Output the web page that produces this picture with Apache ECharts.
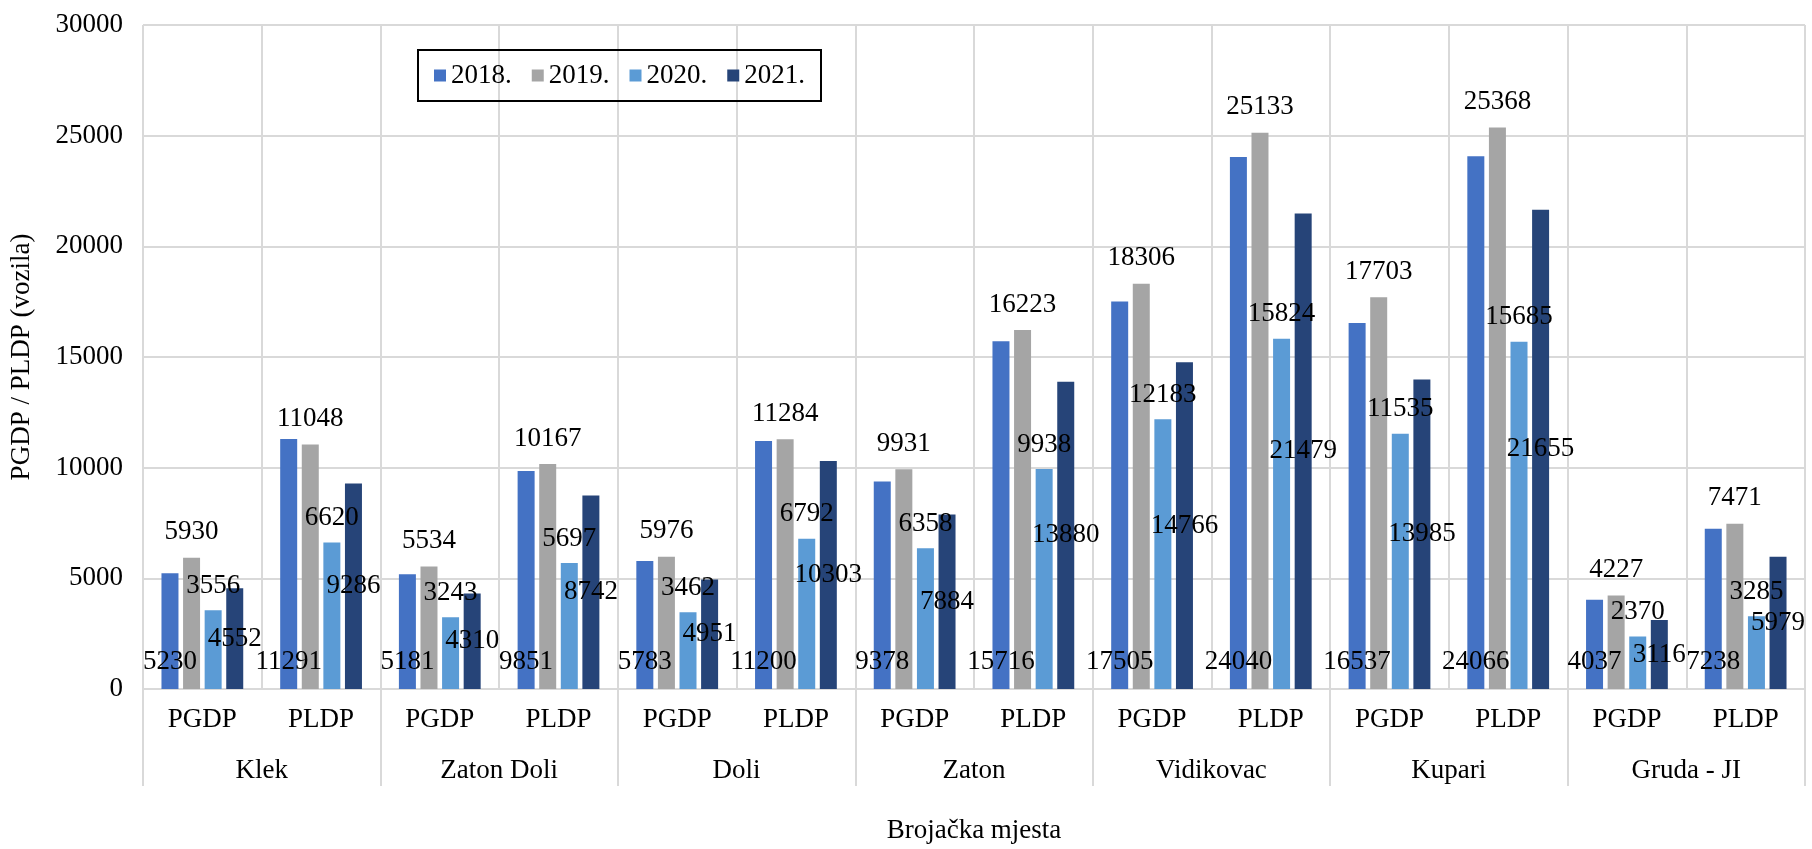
<!DOCTYPE html>
<html>
<head>
<meta charset="utf-8">
<script src="https://cdn.jsdelivr.net/npm/echarts@6/dist/echarts.min.js"></script>
<style>
  html, body { margin: 0; padding: 0; background: #fff; }
  #chart { width: 1812px; height: 849px; }
</style>
</head>
<body>
<div id="chart"></div>
<script>
// brojačka mjesta i tip dana
var locations = ['Klek', 'Zaton Doli', 'Doli', 'Zaton', 'Vidikovac', 'Kupari', 'Gruda - JI'];
var dayTypes = ['PGDP', 'PLDP', 'PGDP', 'PLDP', 'PGDP', 'PLDP', 'PGDP', 'PLDP', 'PGDP', 'PLDP', 'PGDP', 'PLDP', 'PGDP', 'PLDP'];
var years = ['2018.', '2019.', '2020.', '2021.'];

var y2018 = [5230, 11291, 5181, 9851, 5783, 11200, 9378, 15716, 17505, 24040, 16537, 24066, 4037, 7238];
var y2019 = [5930, 11048, 5534, 10167, 5976, 11284, 9931, 16223, 18306, 25133, 17703, 25368, 4227, 7471];
var y2020 = [3556, 6620, 3243, 5697, 3462, 6792, 6358, 9938, 12183, 15824, 11535, 15685, 2370, 3285];
var y2021 = [4552, 9286, 4310, 8742, 4951, 10303, 7884, 13880, 14766, 21479, 13985, 21655, 3116, 5979];

var colors = ['#4472C4', '#A5A5A5', '#5B9BD5', '#264478'];
var font = 'Liberation Serif';
var gridColor = '#d9d9d9';

function makeSeries(name, data, pos, dist) {
    return {
        name: name,
        type: 'bar',
        xAxisIndex: 0,
        barWidth: 17,
        barGap: '27%',
        data: data,
        label: {
            show: true,
            position: pos,
            distance: dist,
            color: '#000',
            fontSize: 27,
            fontFamily: font
        }
    };
}

var chart = echarts.init(document.getElementById('chart'));
var option = {
    color: colors,
    animation: false,
    textStyle: { fontFamily: font },
    grid: { left: 143, right: 7, top: 25, bottom: 158 },
    legend: {
        data: years,
        left: 418,
        top: 50,
        padding: [12, 16],
        itemGap: 20,
        itemWidth: 12,
        itemHeight: 12,
        icon: 'rect',
        borderColor: '#000',
        borderWidth: 2,
        textStyle: { fontSize: 27, color: '#000', fontFamily: font }
    },
    xAxis: [
        {
            type: 'category',
            data: dayTypes,
            position: 'bottom',
            axisLine: { show: true, lineStyle: { color: gridColor, width: 2 } },
            axisTick: { show: false },
            splitLine: { show: true, lineStyle: { color: gridColor, width: 2 } },
            axisLabel: { color: '#000', fontSize: 27, fontFamily: font, margin: 17, interval: 0 },
            name: 'Brojačka mjesta',
            nameLocation: 'middle',
            nameGap: 128,
            nameTextStyle: { color: '#000', fontSize: 27, fontFamily: font }
        },
        {
            type: 'category',
            data: locations,
            position: 'bottom',
            axisLine: { show: false },
            axisTick: { show: true, length: 97, lineStyle: { color: gridColor, width: 2 } },
            splitLine: { show: false },
            axisLabel: { color: '#000', fontSize: 27, fontFamily: font, margin: 68, interval: 0 }
        }
    ],
    yAxis: {
        type: 'value',
        min: 0,
        max: 30000,
        interval: 5000,
        axisLine: { show: false },
        axisTick: { show: false },
        splitLine: { show: true, lineStyle: { color: gridColor, width: 2 } },
        axisLabel: {
            color: '#000', fontSize: 27, fontFamily: font, margin: 20,
            formatter: function (v) { return String(v); }
        },
        name: 'PGDP / PLDP (vozila)',
        nameLocation: 'middle',
        nameGap: 108,
        nameTextStyle: { color: '#000', fontSize: 27, fontFamily: font }
    },
    series: [
        makeSeries(years[0], y2018, 'insideBottom', 14),
        makeSeries(years[1], y2019, 'top', 12),
        makeSeries(years[2], y2020, 'top', 11),
        makeSeries(years[3], y2021, 'inside', 0)
    ]
};
chart.setOption(option);
</script>
</body>
</html>
